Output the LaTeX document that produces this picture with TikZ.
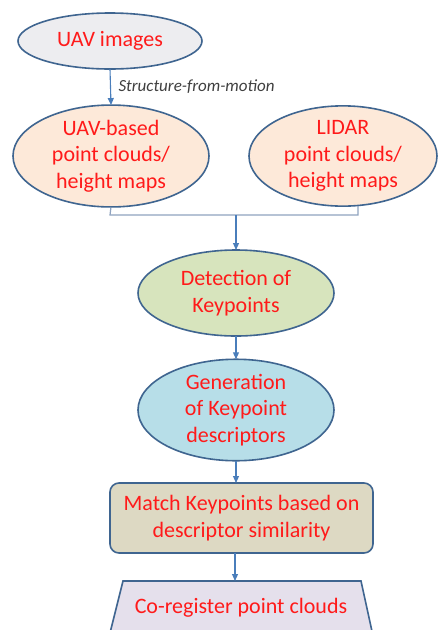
\documentclass[tikz,border=0pt]{standalone}
\usepackage{fontspec}
\setmainfont{Carlito}
\usetikzlibrary{shapes.geometric,arrows.meta}
\definecolor{edge}{HTML}{3F6590}
\definecolor{arrowc}{HTML}{4A7EBB}
\definecolor{joinc}{HTML}{8FA3C0}
\definecolor{redtxt}{HTML}{FF1A1A}
\definecolor{grayfill}{HTML}{EDEDF0}
\definecolor{peach}{HTML}{FDE9D9}
\definecolor{greenf}{HTML}{D7E4BD}
\definecolor{bluef}{HTML}{B7DEE8}
\definecolor{tanf}{HTML}{DDD9C3}
\definecolor{lavf}{HTML}{E5E0EC}
\tikzset{
  every node/.style={inner sep=0pt, outer sep=0pt},
  txt/.style={text=redtxt, align=center, font=\fontsize{22}{26.5}\selectfont},
  ell/.style={txt, ellipse, draw=edge, line width=1.6pt},
  arr/.style={draw=arrowc, line width=1.1pt, -{Triangle[length=7pt,width=6pt]}},
  joinl/.style={draw=joinc, line width=1.2pt},
}
\begin{document}
\begin{tikzpicture}[x=1pt,y=-1pt]
\useasboundingbox (0,0) rectangle (439,630);
\fill[white] (0,0) rectangle (439,630);
\clip (0,0) rectangle (439,630);

\node[ell, fill=grayfill, minimum width=184pt, minimum height=56pt] (uav) at (110,41) {UAV images};
\node[ell, fill=peach, minimum width=196pt, minimum height=86pt] (uavpc) at (111,156) {UAV-based\\point clouds/\\height maps};
\node[ell, fill=peach, minimum width=188pt, minimum height=86pt] (lidar) at (343,156) {LIDAR\\point clouds/\\height maps};
\node[ell, fill=greenf, minimum width=196pt, minimum height=86pt] (det) at (236,293) {Detection of\\Keypoints};
\node[ell, fill=bluef, minimum width=196pt, minimum height=88pt] (gen) at (236,410) {Generation\\of Keypoint\\descriptors};
\node[txt, draw=edge, line width=1.6pt, fill=tanf, rounded corners=9pt, minimum width=263pt, minimum height=70pt] (match) at (241.5,518) {Match Keypoints based on\\descriptor similarity};

\draw[draw=edge, line width=1.6pt, fill=lavf] (123,581) -- (361,581) -- (375,645) -- (107,645) -- cycle;
\node[txt] (reg) at (241,608) {Co-register point clouds};
\coordinate (regtop) at (235,581);

% connectors
\draw[arr] (uav.south) -- (uavpc.north) node[midway, right=8pt, text=black!75, font=\fontsize{17}{20}\itshape] (sfm) {Structure-from-motion};
\coordinate (lj) at (110,215);
\coordinate (rj) at (358,215);
\coordinate (mj) at (236,215);
\draw[joinl] (uavpc.south) -- (lj) -- (rj) -- (rj |- lidar.south);
\draw[arr] (mj) -- (det.north);
\draw[arr] (det.south) -- (gen.north);
\draw[arr] (gen.south) -- (gen.south |- match.north);
\draw[arr] (match.south -| regtop) -- (regtop);
\end{tikzpicture}
\end{document}
